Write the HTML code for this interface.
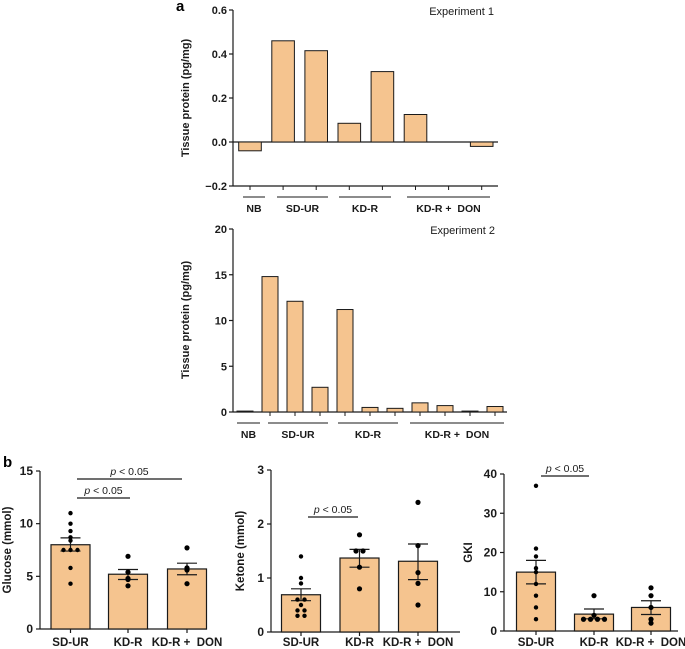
<!DOCTYPE html>
<html><head><meta charset="utf-8"><style>
html,body{margin:0;padding:0;background:#fff;}
svg{display:block;font-family:"Liberation Sans",Arial,sans-serif;}
</style></head><body>
<svg id="fig" width="685" height="649" viewBox="0 0 685 649" xmlns="http://www.w3.org/2000/svg">
<text x="176" y="11" font-size="15" font-weight="bold">a</text>
<text x="3" y="467" font-size="15" font-weight="bold">b</text>
</svg>
<script>
// Experiment 1 data
const exp1Values = [-0.04, 0.46, 0.415, 0.085, 0.32, 0.125, 0, -0.02];
const exp1Ticks = [-0.2, 0.0, 0.2, 0.4, 0.6];
const exp1TickLabels = ["\u22120.2", "0.0", "0.2", "0.4", "0.6"];
// Experiment 2 data
const exp2Values = [0.1, 14.8, 12.1, 2.7, 11.2, 0.5, 0.4, 1.0, 0.7, 0.1, 0.6];
const exp2Ticks = [0, 5, 10, 15, 20];
const exp2TickLabels = ["0", "5", "10", "15", "20"];
// Panel b
const bCategories = ["SD-UR", "KD-R", "KD-R +\u00a0 DON"];
const glucoseMeans = [8.0, 5.2, 5.7];
const glucoseSemHi = [8.65, 5.65, 6.25];
const glucoseSemLo = [7.4, 4.7, 5.15];
const glucosePts = [[11, 10, 9.3, 8.7, 8.4, 7.5, 7.5, 7.5, 5.8, 4.3], [6.9, 5.4, 4.8, 4.7, 4.1], [7.7, 5.8, 5.7, 5.6, 4.3]];
const glucoseTicks = [0, 5, 10, 15];
const ketoneMeans = [0.69, 1.37, 1.31];
const ketoneSemHi = [0.8, 1.53, 1.63];
const ketoneSemLo = [0.58, 1.2, 0.97];
const ketonePts = [[1.4, 1.0, 0.9, 0.6, 0.6, 0.5, 0.4, 0.4, 0.3, 0.3], [1.8, 1.5, 1.5, 1.2, 0.8], [2.4, 1.6, 1.1, 0.9, 0.5]];
const ketoneTicks = [0, 1, 2, 3];
const gkiMeans = [15, 4.3, 6.0];
const gkiSemHi = [18, 5.6, 7.7];
const gkiSemLo = [12, 3.1, 4.2];
const gkiPts = [[37, 21, 19, 16, 15, 12, 9, 6, 3], [9, 4, 3, 3, 3, 3], [11, 9, 6, 3, 2]];
const gkiTicks = [0, 10, 20, 30, 40];

const NS = "http://www.w3.org/2000/svg";
const svg = document.getElementById("fig");
const FILL = "#f5c48f", INK = "#1a1a1a";
function mk(tag, attrs, parent) {
  const e = document.createElementNS(NS, tag);
  for (const k in attrs) e.setAttribute(k, attrs[k]);
  (parent || svg).appendChild(e);
  return e;
}
function line(x1, y1, x2, y2, w, p) { return mk("line", {x1, y1, x2, y2, stroke: INK, "stroke-width": w || 1.2}, p); }
function txt(x, y, s, attrs, p) { const t = mk("text", Object.assign({x, y, "font-size": 11, fill: INK}, attrs), p); t.textContent = s; return t; }

// ---------- Experiment 1 ----------
(function () {
  const g = mk("g", {});
  
  
  const x0 = 233, y = v => 142 - v * 220;
  line(x0, y(0.6), x0, y(-0.2), 1.2, g);
  line(x0, y(-0.2), 498, y(-0.2), 1.2, g);
  line(x0, y(0), 498, y(0), 1.2, g);
  exp1Ticks.forEach((t, i) => {
    line(x0 - 4, y(t), x0, y(t), 1.2, g);
    const l = txt(x0 - 6, y(t) + 4, exp1TickLabels[i], {"text-anchor": "end", "font-weight": "bold"}, g);
    
    
  });
  exp1Values.forEach((v, i) => {
    const cx = 250 + i * 33.1;
    if (v !== 0) {
      const r = mk("rect", {x: cx - 11.3, y: Math.min(y(v), y(0)), width: 22.6, height: Math.abs(y(v) - y(0)), fill: FILL, stroke: INK, "stroke-width": 1}, g);
      
      
    }
    line(cx, y(-0.2), cx, y(-0.2) + 4, 1, g);
  });
  const t = txt(494, 15, "Experiment 1", {"text-anchor": "end", "font-size": 11}, g);
  
  
  const yl = txt(0, 0, "Tissue protein (pg/mg)", {"text-anchor": "middle", "font-weight": "bold", transform: "translate(189,98) rotate(-90)"}, g);
  
  
  const groups = [["NB", 243, 265], ["SD-UR", 277, 328], ["KD-R", 339, 391], ["KD-R +\u00a0 DON", 407, 490]];
  groups.forEach(gr => {
    line(gr[1], 197, gr[2], 197, 1, g);
    const l = txt((gr[1] + gr[2]) / 2, 212, gr[0], {"text-anchor": "middle", "font-weight": "bold", "font-size": 10.5}, g);
    
    
  });
})();

// ---------- Experiment 2 ----------
(function () {
  const g = mk("g", {});
  
  
  const x0 = 233, y = v => 412 - v * 9.15;
  line(x0, y(20), x0, y(0), 1.2, g);
  line(x0, y(0), 507, y(0), 1.2, g);
  exp2Ticks.forEach((t, i) => {
    line(x0 - 4, y(t), x0, y(t), 1.2, g);
    const l = txt(x0 - 6, y(t) + 4, exp2TickLabels[i], {"text-anchor": "end", "font-weight": "bold"}, g);
    
    
  });
  exp2Values.forEach((v, i) => {
    const cx = 245 + i * 25;
    const r = mk("rect", {x: cx - 8, y: y(v), width: 16, height: y(0) - y(v), fill: FILL, stroke: INK, "stroke-width": 1}, g);
    
    
    if (i > 0) line(cx, y(0), cx, y(0) + 4, 1, g);
  });
  const t = txt(495, 234, "Experiment 2", {"text-anchor": "end", "font-size": 11}, g);
  
  
  const yl = txt(0, 0, "Tissue protein (pg/mg)", {"text-anchor": "middle", "font-weight": "bold", transform: "translate(189,320) rotate(-90)"}, g);
  
  
  const groups = [["NB", 237, 260], ["SD-UR", 268, 328], ["KD-R", 338, 398], ["KD-R +\u00a0 DON", 410, 504]];
  groups.forEach(gr => {
    line(gr[1], 423, gr[2], 423, 1, g);
    const l = txt((gr[1] + gr[2]) / 2, 438, gr[0], {"text-anchor": "middle", "font-weight": "bold", "font-size": 10.5}, g);
    
    
  });
})();

// ---------- Panel b ----------
function dotPanel(cfg) {
  const g = mk("g", {});
  
  
  const y = v => cfg.y0 - (v / cfg.max) * (cfg.y0 - cfg.yTop);
  line(cfg.x0, y(cfg.max), cfg.x0, y(0), 1.2, g);
  line(cfg.x0, y(0), cfg.xEnd, y(0), 1.2, g);
  cfg.ticks.forEach(t => {
    line(cfg.x0 - 4, y(t), cfg.x0, y(t), 1.2, g);
    const l = txt(cfg.x0 - 7, y(t) + 4, String(t), {"text-anchor": "end", "font-weight": "bold", "font-size": 12}, g);
    
    
  });
  cfg.means.forEach((m, i) => {
    const cx = cfg.centers[i];
    const r = mk("rect", {x: cx - 19.5, y: y(m), width: 39, height: y(0) - y(m), fill: FILL, stroke: INK, "stroke-width": 1.2}, g);
    
    
    line(cx, y(0), cx, y(0) + 4, 1.2, g);
    line(cx, y(cfg.hi[i]), cx, y(cfg.lo[i]), 1.2, g);
    line(cx - 10, y(cfg.hi[i]), cx + 10, y(cfg.hi[i]), 1.2, g);
    line(cx - 10, y(cfg.lo[i]), cx + 10, y(cfg.lo[i]), 1.2, g);
    const pts = cfg.pts[i];
    const seen = {};
    pts.forEach(p => {
      const k = p.toFixed(2); seen[k] = (seen[k] || 0) + 1;
      const n = pts.filter(q => q.toFixed(2) === k).length;
      const off = (seen[k] - 1 - (n - 1) / 2) * 7;
      const c = mk("circle", {cx: cx + off, cy: y(p), r: i === 0 ? 2.2 : 2.6, fill: "#000"}, g);
      
      
    });
    const l = txt(cx, 646, bCategories[i], {"text-anchor": "middle", "font-weight": "bold", "font-size": 11.5}, g);
    
    
  });
  cfg.sig.forEach(s => {
    line(s[0], s[2], s[1], s[2], 1.2, g);
    const t = mk("text", {x: (s[0] + s[1]) / 2, y: s[2] - 4, "text-anchor": "middle", "font-size": 10.5, fill: INK}, g);
    t.innerHTML = '<tspan font-style="italic">p</tspan> &lt; 0.05';
    
    
  });
  const yl = txt(0, 0, cfg.title, {"text-anchor": "middle", "font-weight": "bold", "font-size": 11.5, transform: "translate(" + cfg.titleX + "," + ((y(0) + y(cfg.max)) / 2) + ") rotate(-90)"}, g);
  
  
}
dotPanel({name: "glucose-chart", x0: 40, xEnd: 207, y0: 629, yTop: 471, max: 15, ticks: glucoseTicks, centers: [70.5, 128, 187],
  means: glucoseMeans, hi: glucoseSemHi, lo: glucoseSemLo, pts: glucosePts, title: "Glucose (mmol)", titleX: 11,
  sig: [[77, 182, 479], [77, 130, 498]]});
dotPanel({name: "ketone-chart", x0: 271, xEnd: 460, y0: 632, yTop: 470, max: 3, ticks: ketoneTicks, centers: [301, 359.5, 418],
  means: ketoneMeans, hi: ketoneSemHi, lo: ketoneSemLo, pts: ketonePts, title: "Ketone (mmol)", titleX: 244,
  sig: [[308, 358, 517]]});
dotPanel({name: "gki-chart", x0: 504, xEnd: 678, y0: 631, yTop: 474, max: 40, ticks: gkiTicks, centers: [536, 594, 651],
  means: gkiMeans, hi: gkiSemHi, lo: gkiSemLo, pts: gkiPts, title: "GKI", titleX: 472,
  sig: [[541, 589, 476]]});
</script>
</body></html>
